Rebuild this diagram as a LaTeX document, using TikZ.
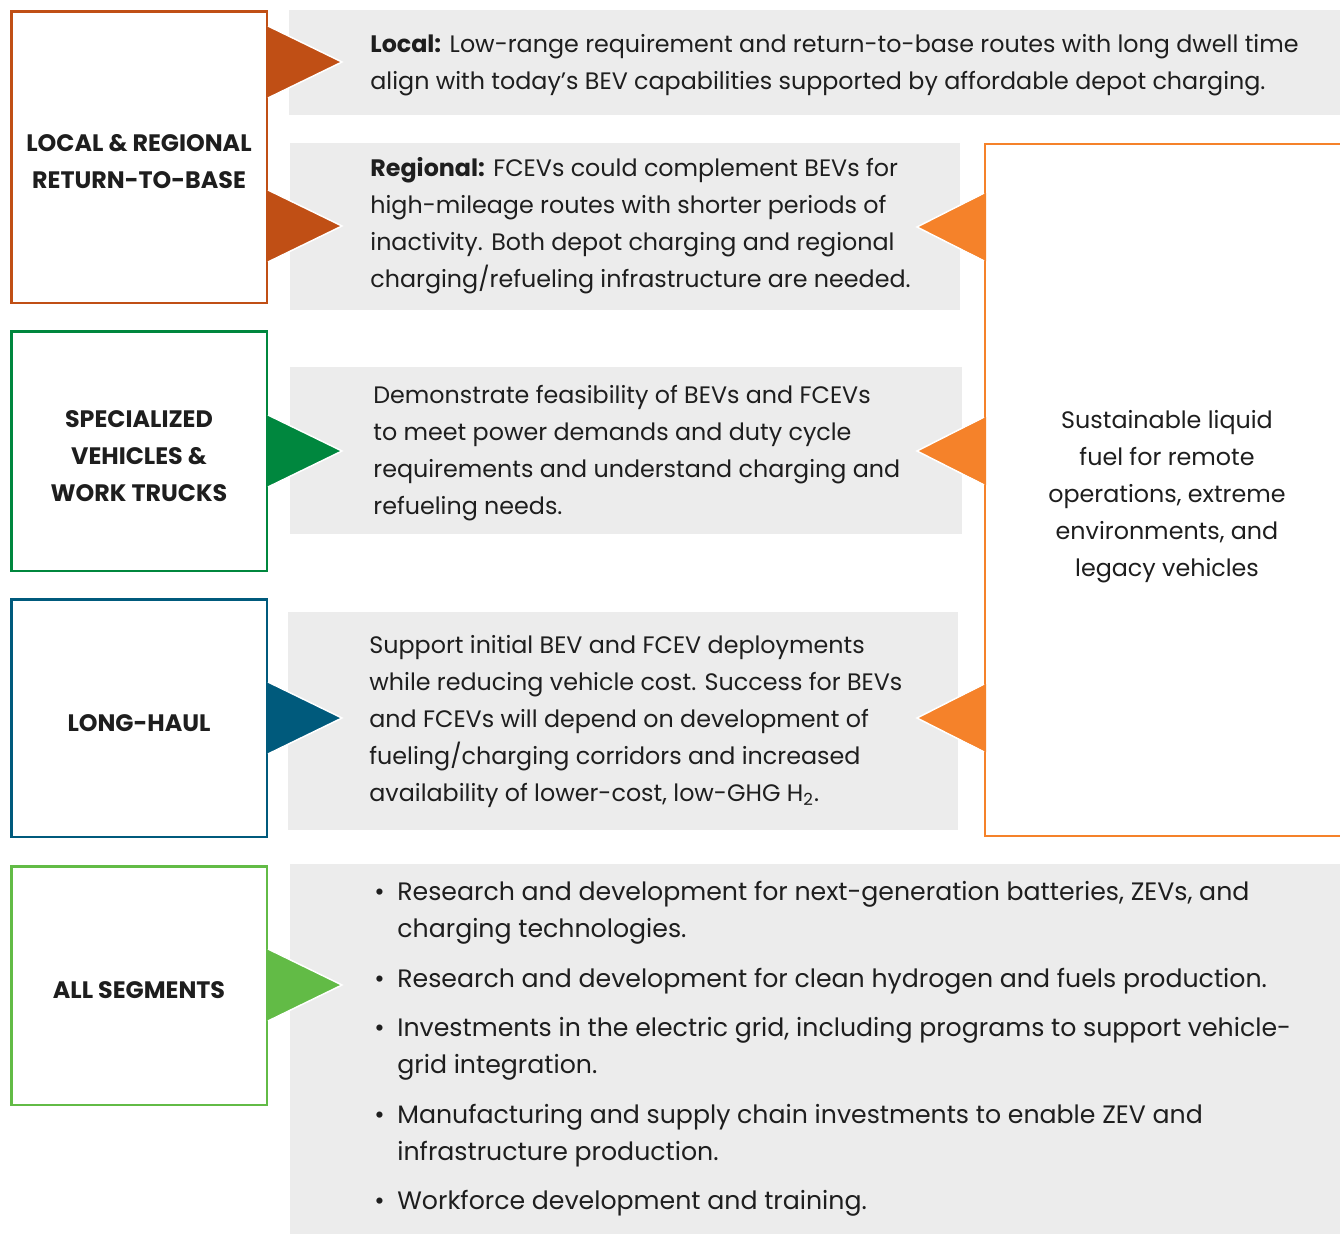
\documentclass[tikz,border=0pt]{standalone}
\usepackage{fontspec}
\setmainfont{Poppins}
\usetikzlibrary{positioning,calc}

\definecolor{localred}{HTML}{C04F15}
\definecolor{specgreen}{HTML}{00873E}
\definecolor{haulblue}{HTML}{005A7C}
\definecolor{allgreen}{HTML}{62BB46}
\definecolor{fuelorange}{HTML}{F5822A}
\definecolor{panelgrey}{HTML}{ECECEC}
\definecolor{inkgrey}{HTML}{1E1E1E}

\newcommand{\bul}{\makebox[11.5pt][l]{•}}
\newcommand{\ind}{\hspace*{11.5pt}}

\begin{document}
\begin{tikzpicture}[x=0.5pt,y=-0.5pt,
    font=\fontsize{11.9pt}{18.5pt}\selectfont,
    segment/.style={draw=#1, line width=1.25pt, fill=white, minimum width=127.75pt,
      inner sep=0pt},
    title/.style={align=center, inner sep=0pt, text=inkgrey,
      font=\fontsize{11.9pt}{18.5pt}\selectfont\bfseries},
    panel/.style={fill=panelgrey},
    body/.style={anchor=west, align=left, inner sep=0pt, text=inkgrey}]

    % Frame
    \clip (0,0) rectangle (1340,1233);
    \fill[white] (0,0) rectangle (1340,1233);

    % Grey panels
    \fill[panel] (289,10) rectangle (1345,115);
    \fill[panel] (290,143) rectangle (960,310);
    \fill[panel] (290,367) rectangle (962,534);
    \fill[panel] (288,612) rectangle (958,830);
    \fill[panel] (290,864) rectangle (1345,1240);

    % Segments
    \node[segment=localred, minimum height=145.75pt] (local) at (139,157) {};
    \node[segment=specgreen, minimum height=119.75pt] (special) at (139,451) {};
    \node[segment=haulblue, minimum height=118.75pt] (haul) at (139,718) {};
    \node[segment=allgreen, minimum height=119.25pt] (all) at (139,985.5) {};

    \node[title] (localname) at ($(local.center)+(0,5)$) {LOCAL \& REGIONAL\\RETURN-TO-BASE};
    \node[title] (specialname) at ($(special.center)+(0,5)$) {SPECIALIZED\\VEHICLES \&\\WORK TRUCKS};
    \node[title] (haulname) at ($(haul.center)+(0,5.5)$) {LONG-HAUL};
    \node[title] (allname) at ($(all.center)+(0,5)$) {ALL SEGMENTS};

    % Fuel box
    \node[draw=fuelorange, line width=1.25pt, minimum width=182pt, minimum height=346pt]
        (fuel) at (1167,490) {};
    \node[align=center, inner sep=0pt, text=inkgrey] (fueltxt) at ($(fuel.center)+(0,7)$)
        {Sustainable liquid\\fuel for remote\\operations, extreme\\environments, and\\legacy vehicles};

    % Pointers
    \foreach \c/\y in {localred/62, localred/226, specgreen/451, haulblue/718, allgreen/985} {
        \fill[\c] (267,\y-36) -- (342,\y) -- (267,\y+36) -- cycle;
        \draw[white, line width=0.75pt] (268,\y-36) -- (342,\y) -- (268,\y+36);
    }
    \foreach \y in {227, 451, 718} {
        \fill[fuelorange] (986,\y-34) -- (917,\y) -- (986,\y+34) -- cycle;
        \draw[white, line width=0.75pt] (984,\y-34) -- (917,\y) -- (984,\y+34);
    }

    % Texts
    \node[body] (localtxt) at (370,65.5)
        {\textbf{Local:} Low-range requirement and return-to-base routes with long dwell time\\
         align with today’s BEV capabilities supported by affordable depot charging.};
    \node[body] (regiontxt) at (370,226)
        {\textbf{Regional:} FCEVs could complement BEVs for\\
         high-mileage routes with shorter periods of\\
         inactivity. Both depot charging and regional\\
         charging/refueling infrastructure are needed.};
    \node[body] (specialtxt) at (373,453.5)
        {Demonstrate feasibility of BEVs and FCEVs\\
         to meet power demands and duty cycle\\
         requirements and understand charging and\\
         refueling needs.};
    \node[body] (haultxt) at (369,722)
        {Support initial BEV and FCEV deployments\\
         while reducing vehicle cost. Success for BEVs\\
         and FCEVs will depend on development of\\
         fueling/charging corridors and increased\\
         availability of lower-cost, low-GHG H\textsubscript{2}.};
    \node[body, font=\fontsize{12.6pt}{18.5pt}\selectfont] (alltxt) at (374,1049)
        {\bul Research and development for next-generation batteries, ZEVs, and\\
         \ind charging technologies.\\[6.25pt]
         \bul Research and development for clean hydrogen and fuels production.\\[6.25pt]
         \bul Investments in the electric grid, including programs to support vehicle-\\
         \ind grid integration.\\[6.25pt]
         \bul Manufacturing and supply chain investments to enable ZEV and\\
         \ind infrastructure production.\\[6.25pt]
         \bul Workforce development and training.};

\end{tikzpicture}
\end{document}
